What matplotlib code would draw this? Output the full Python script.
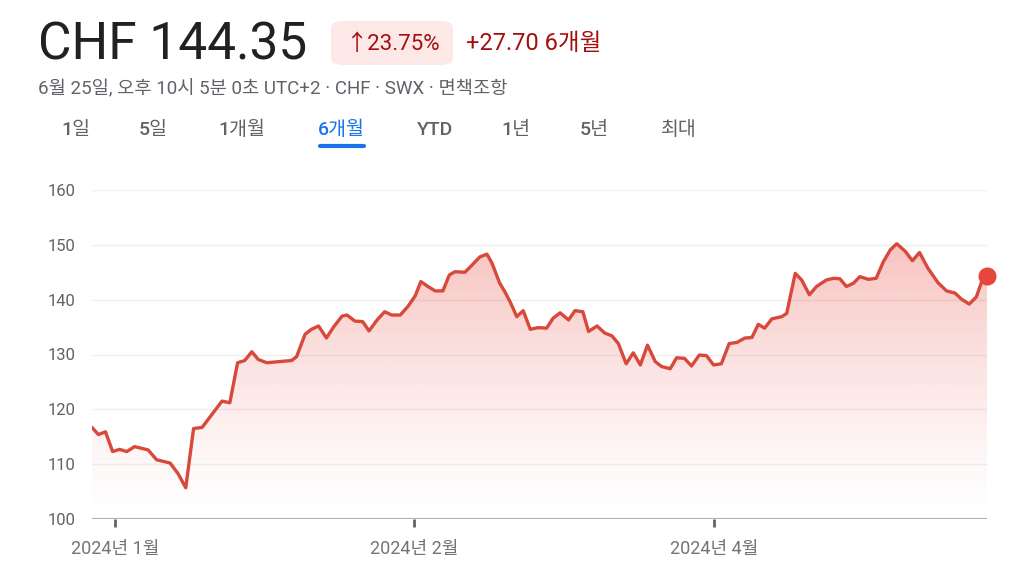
import numpy as np
import matplotlib
matplotlib.use("Agg")
import matplotlib.pyplot as plt
from matplotlib.patches import FancyBboxPatch
from matplotlib.colors import to_rgb

plt.rcParams["font.family"] = ["Roboto", "Noto Sans CJK KR", "DejaVu Sans"]

# trading session index, price (CHF)
days = [0, 0.9, 1.9, 2.9, 3.9, 4.9, 6.0, 7.9, 9.1, 11.0, 12.1, 13.2, 14.3, 15.5,
        18.3, 19.4, 20.5, 21.5, 22.5, 23.4, 24.6, 28.1, 28.8, 30.0, 30.9, 31.9,
        33.0, 34.0, 35.2, 35.9, 37.0, 38.1, 39.0, 40.2, 41.2, 42.2, 43.4, 44.5,
        45.5, 46.3, 47.3, 48.3, 49.4, 50.3, 51.1, 52.5, 53.5, 54.6, 55.6, 56.3,
        57.4, 58.1, 58.9, 59.8, 60.7, 61.7, 62.8, 64.0, 64.9, 65.9, 67.1, 68.0,
        69.1, 69.9, 71.1, 72.2, 73.2, 74.1, 75.2, 76.2, 77.2, 78.2, 79.3, 80.2,
        81.4, 82.3, 83.4, 84.4, 85.5, 86.5, 87.5, 88.6, 89.7, 90.8, 91.9, 92.9,
        93.8, 94.7, 95.7, 97.1, 97.8, 99.0, 99.9, 101.0, 102.0, 103.4, 104.4,
        105.3, 106.2, 107.2, 108.1, 109.3, 110.4, 111.4, 112.4, 113.3, 114.5,
        115.5, 116.5, 117.7, 119.1, 120.3, 121.5, 122.4, 123.5, 124.5, 125.5, 126.0]
prices = [116.7, 115.4, 115.9, 112.3, 112.7, 112.3, 113.2, 112.6, 110.8, 110.2,
          108.3, 105.7, 116.5, 116.7, 121.5, 121.2, 128.5, 128.9, 130.5, 129.1,
          128.5, 128.9, 129.6, 133.7, 134.6, 135.2, 133.0, 135.0, 137.0, 137.2,
          136.1, 136.0, 134.3, 136.4, 137.8, 137.2, 137.2, 138.8, 140.7, 143.3,
          142.4, 141.6, 141.6, 144.5, 145.1, 145.0, 146.3, 147.8, 148.3, 146.7,
          143.0, 141.5, 139.5, 136.9, 138.0, 134.6, 134.9, 134.8, 136.6, 137.6,
          136.3, 138.0, 137.8, 134.2, 135.2, 133.9, 133.4, 132.0, 128.3, 130.3,
          128.1, 131.7, 128.7, 127.8, 127.4, 129.4, 129.3, 127.9, 129.9, 129.8,
          128.1, 128.3, 132.0, 132.2, 133.0, 133.1, 135.5, 134.8, 136.5, 136.9,
          137.5, 144.8, 143.6, 140.9, 142.4, 143.6, 143.9, 143.8, 142.4, 143.0,
          144.2, 143.7, 143.9, 146.9, 149.1, 150.2, 148.8, 147.1, 148.6, 145.7,
          143.1, 141.6, 141.2, 140.1, 139.2, 140.5, 144.2, 144.35]
y_ticks = [100, 110, 120, 130, 140, 150, 160]
x_tick_days = [3.2, 45.3, 87.6]
x_tick_labels = ["2024년 1월", "2024년 2월", "2024년 4월"]
tabs = ["1일", "5일", "1개월", "6개월", "YTD", "1년", "5년", "최대"]
tab_x = [76, 153, 242, 341, 435, 516, 594, 679]

red = "#d8483b"
W, H = 1024, 572
fig = plt.figure(figsize=(W / 100, H / 100), dpi=100)
ax = fig.add_axes([92 / W, (H - 519) / H, 895 / W, 329 / H])

ax.set_xlim(0, 126)
ax.set_ylim(100, 160)

# gradient fill under the line
poly = ax.fill_between(days, prices, 100, color="none", lw=0)
grad = np.linspace(1, 0, 256).reshape(-1, 1)
rgba = np.zeros((256, 1, 4))
rgba[..., :3] = to_rgb("#e8453c")
rgba[..., 3] = 0.33 * grad ** 1.3
img = ax.imshow(rgba, extent=[0, 126, 100, 151], origin="upper",
                aspect="auto", zorder=1)
img.set_clip_path(poly.get_paths()[0], transform=ax.transData)

ax.plot(days, prices, color=red, lw=2.4, solid_joinstyle="round",
        solid_capstyle="round", zorder=3)
ax.plot(days[-1], prices[-1], "o", color="#e8453c", ms=12, zorder=4, clip_on=False)

for s in ax.spines.values():
    s.set_visible(False)
ax.axhline(100, color="#b0b0b0", lw=1.5, zorder=2)
for y in y_ticks[1:]:
    ax.axhline(y, color="#efefef", lw=1, zorder=0)

ax.set_yticks(y_ticks)
ax.tick_params(axis="y", length=0, pad=12, labelsize=12, labelcolor="#5f6368")
ax.set_xticks(x_tick_days)
ax.set_xticklabels(x_tick_labels)
ax.tick_params(axis="x", length=6, width=2, color="#5f6368", pad=9,
               labelsize=13, labelcolor="#70757a")

# header
fig.text(38 / W, 1 - 45 / H, "CHF 144.35", fontsize=37, color="#202124",
         va="center", ha="left")
badge = FancyBboxPatch((331 / W, 1 - 65 / H), 122 / W, 44 / H,
                       boxstyle="round,pad=0,rounding_size=0.012",
                       transform=fig.transFigure, fc="#fce8e6", ec="none")
fig.patches.append(badge)
fig.text(392 / W, 1 - 44 / H, "↑23.75%", fontsize=16, color="#a50e0e",
         va="center", ha="center")
fig.text(466 / W, 1 - 44 / H, "+27.70 6개월", fontsize=17, color="#a50e0e",
         va="center", ha="left")
fig.text(38 / W, 1 - 89 / H,
         "6월 25일, 오후 10시 5분 0초 UTC+2 · CHF · SWX · 면책조항",
         fontsize=13.5, color="#5f6368", va="center", ha="left")

for t, x in zip(tabs, tab_x):
    c = "#1a73e8" if t == "6개월" else "#5f6368"
    fig.text(x / W, 1 - 130 / H, t, fontsize=14, color=c, va="center",
             ha="center", fontweight="medium")
fig.add_artist(plt.Line2D([320 / W, 364 / W], [1 - 146 / H, 1 - 146 / H],
                          color="#1a73e8", lw=3, solid_capstyle="round"))

fig.savefig("out.png", dpi=100)
